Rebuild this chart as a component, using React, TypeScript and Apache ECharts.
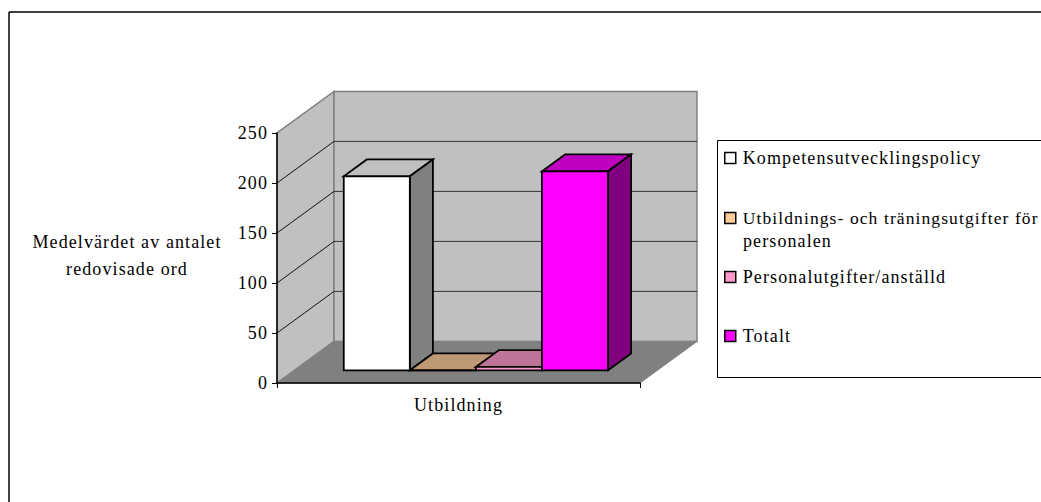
import React, { useEffect, useRef } from "react";
import * as echarts from "echarts";

const categories = ["Utbildning"];
const seriesNames = [
  "Kompetensutvecklingspolicy",
  "Utbildnings- och träningsutgifter för personalen",
  "Personalutgifter/anställd",
  "Totalt",
];
const seriesValues = [194, 0, 3.4, 199];
const seriesColors = ["#ffffff", "#ffcc99", "#ff99cc", "#ff00ff"];
const gridTicks = [50, 100, 150, 200];
const axisMax = 250;
const axisStep = 50;

const FONT = "'Liberation Serif', 'Times New Roman', serif";
const FONT_SIZE = 18;

// Oblique projection of the box: where the back wall sits relative to the front edge.
const DEPTH_X = 57;
const DEPTH_Y = -41.6;
// Bars occupy this slice of the depth, and this share of the category band.
const BAR_NEAR = 0.305;
const BAR_FAR = 0.71;
const BAR_BAND_SHARE = 0.728;
const BAR_STROKE = 1.8;

const shade = (hex: string, factor: number) => {
  const n = parseInt(hex.slice(1), 16);
  const c = [(n >> 16) & 255, (n >> 8) & 255, n & 255].map((v) => Math.round(v * factor));
  return `rgb(${c[0]},${c[1]},${c[2]})`;
};

const poly = (points: number[][], fill: string, stroke: string, lineWidth: number) => ({
  type: "polygon",
  shape: { points },
  style: { fill, stroke, lineWidth, lineJoin: "miter" },
});

const seg = (a: number[], b: number[], stroke: string) => ({
  type: "line",
  shape: { x1: a[0], y1: a[1], x2: b[0], y2: b[1] },
  style: { stroke, lineWidth: 1 },
});

// Side wall, back wall and floor of the box, with gridlines taken from the value axis.
const renderWalls = (_params: any, api: any) => {
  const cx = api.coord([0, 0])[0];
  const band = api.size([1, 0])[0];
  const left = cx - band / 2;
  const right = cx + band / 2;
  const y0 = api.coord([0, 0])[1];
  const yTop = api.coord([0, axisMax])[1];
  const children: any[] = [
    poly(
      [[left, y0], [left + DEPTH_X, y0 + DEPTH_Y], [left + DEPTH_X, yTop + DEPTH_Y], [left, yTop]],
      "#c0c0c0",
      "#808080",
      1.5
    ),
    poly(
      [
        [left + DEPTH_X, y0 + DEPTH_Y],
        [right + DEPTH_X, y0 + DEPTH_Y],
        [right + DEPTH_X, yTop + DEPTH_Y],
        [left + DEPTH_X, yTop + DEPTH_Y],
      ],
      "#c0c0c0",
      "#808080",
      1.5
    ),
    poly(
      [[left, y0], [right, y0], [right + DEPTH_X, y0 + DEPTH_Y], [left + DEPTH_X, y0 + DEPTH_Y]],
      "#808080",
      "#808080",
      1
    ),
  ];
  gridTicks.forEach((t) => {
    const y = api.coord([0, t])[1];
    children.push(seg([left, y], [left + DEPTH_X, y + DEPTH_Y], "#111111"));
    children.push(seg([left + DEPTH_X, y + DEPTH_Y], [right + DEPTH_X, y + DEPTH_Y], "#333333"));
  });
  return { type: "group", children };
};

// One 3D column: front face, top face and right-hand face.
const renderBar = (index: number) => (_params: any, api: any) => {
  const cx = api.coord([0, 0])[0];
  const band = api.size([1, 0])[0];
  const width = (band * BAR_BAND_SHARE) / seriesNames.length;
  const base = api.coord([0, 0])[1];
  const top = api.coord([0, api.value(1)])[1];
  const nx = DEPTH_X * BAR_NEAR;
  const ny = DEPTH_Y * BAR_NEAR;
  const dx = DEPTH_X * (BAR_FAR - BAR_NEAR);
  const dy = DEPTH_Y * (BAR_FAR - BAR_NEAR);
  const x0 = cx + nx + (index - seriesNames.length / 2) * width;
  const x1 = x0 + width;
  const yb = base + ny;
  const yt = top + ny;
  const color = seriesColors[index];
  return {
    type: "group",
    children: [
      poly([[x0, yt], [x1, yt], [x1 + dx, yt + dy], [x0 + dx, yt + dy]], shade(color, 0.75), "#000", BAR_STROKE),
      poly([[x1, yb], [x1 + dx, yb + dy], [x1 + dx, yt + dy], [x1, yt]], shade(color, 0.5), "#000", BAR_STROKE),
      poly([[x0, yb], [x1, yb], [x1, yt], [x0, yt]], color, "#000", BAR_STROKE),
    ],
  };
};

const legendText = { fontFamily: FONT, color: "#000", padding: [0, 0, 0, 2] };
const legendSizes = [18, 17.5, 18, 18];
const legendTops = [149, 209, 268, 327];
const LEGEND_WRAP_FIRST = "Utbildnings- och träningsutgifter för";
const LEGEND_WRAP_SECOND = "personalen";
const VALUE_AXIS_TITLE = "Medelvärdet av antalet\nredovisade ord";

export default function App() {
  const ref = useRef<HTMLDivElement>(null);

  useEffect(() => {
    const chart = echarts.init(ref.current!, undefined, { renderer: "svg" });
    chart.setOption({
      animation: false,
      backgroundColor: "#ffffff",
      grid: { left: 277, top: 133, width: 363, height: 250 },
      xAxis: {
        type: "category",
        data: categories,
        z: 10,
        axisLine: { show: true, lineStyle: { color: "#000", width: 1.5 } },
        axisTick: { show: true, interval: 0, length: 5, lineStyle: { color: "#000", width: 1 } },
        axisLabel: { fontFamily: FONT, fontSize: FONT_SIZE, color: "#000", margin: 13 },
      },
      yAxis: {
        type: "value",
        min: 0,
        max: axisMax,
        interval: axisStep,
        z: 10,
        axisLine: { show: true, lineStyle: { color: "#000", width: 1.5 } },
        axisTick: { show: true, length: 5, lineStyle: { color: "#000" } },
        axisLabel: { fontFamily: FONT, fontSize: FONT_SIZE, color: "#000", margin: 9 },
        splitLine: { show: false },
      },
      legend: seriesNames.map((name, i) => ({
        left: 724,
        top: legendTops[i],
        padding: 0,
        itemWidth: 11,
        itemHeight: 11,
        selectedMode: false,
        icon: "rect",
        textStyle: { ...legendText, fontSize: legendSizes[i] },
        formatter: (n: string) => (i === 1 ? LEGEND_WRAP_FIRST : n),
        data: [
          {
            name,
            itemStyle: { color: seriesColors[i], borderColor: "#000", borderWidth: 1.5 },
          },
        ],
      })),
      graphic: [
        {
          type: "line",
          z: -1,
          shape: { x1: 9, y1: 12, x2: 1041, y2: 12 },
          style: { stroke: "#000", lineWidth: 1.5 },
        },
        {
          type: "line",
          z: -1,
          shape: { x1: 9, y1: 12, x2: 9, y2: 502 },
          style: { stroke: "#000", lineWidth: 1.5 },
        },
        {
          type: "rect",
          z: -1,
          shape: { x: 717.5, y: 140.5, width: 400, height: 237 },
          style: { fill: "#fff", stroke: "#000", lineWidth: 1 },
        },
        {
          type: "text",
          left: 743,
          top: 232,
          style: { text: LEGEND_WRAP_SECOND, font: `${FONT_SIZE}px ${FONT}`, fill: "#000" },
        },
        {
          type: "text",
          x: 127,
          y: 255.5,
          style: {
            text: VALUE_AXIS_TITLE,
            font: `${FONT_SIZE}px ${FONT}`,
            fill: "#000",
            align: "center",
            verticalAlign: "middle",
            lineHeight: 27,
          },
        },
      ],
      series: [
        {
          type: "custom",
          name: "walls",
          silent: true,
          renderItem: renderWalls,
          encode: { x: 0, y: 1 },
          data: [[0, 0]],
        },
        ...seriesNames.map((name, i) => ({
          type: "custom",
          name,
          silent: true,
          renderItem: renderBar(i),
          encode: { x: 0, y: 1 },
          data: [[0, seriesValues[i]]],
        })),
      ],
    });
    return () => chart.dispose();
  }, []);

  return (
    <>
      <style>{`#chart-box svg text { letter-spacing: 1.1px; }`}</style>
      <div
        id="chart-box"
        ref={ref}
        style={{ position: "absolute", left: 0, top: 0, width: 1041, height: 502, overflow: "hidden" }}
      />
    </>
  );
}
